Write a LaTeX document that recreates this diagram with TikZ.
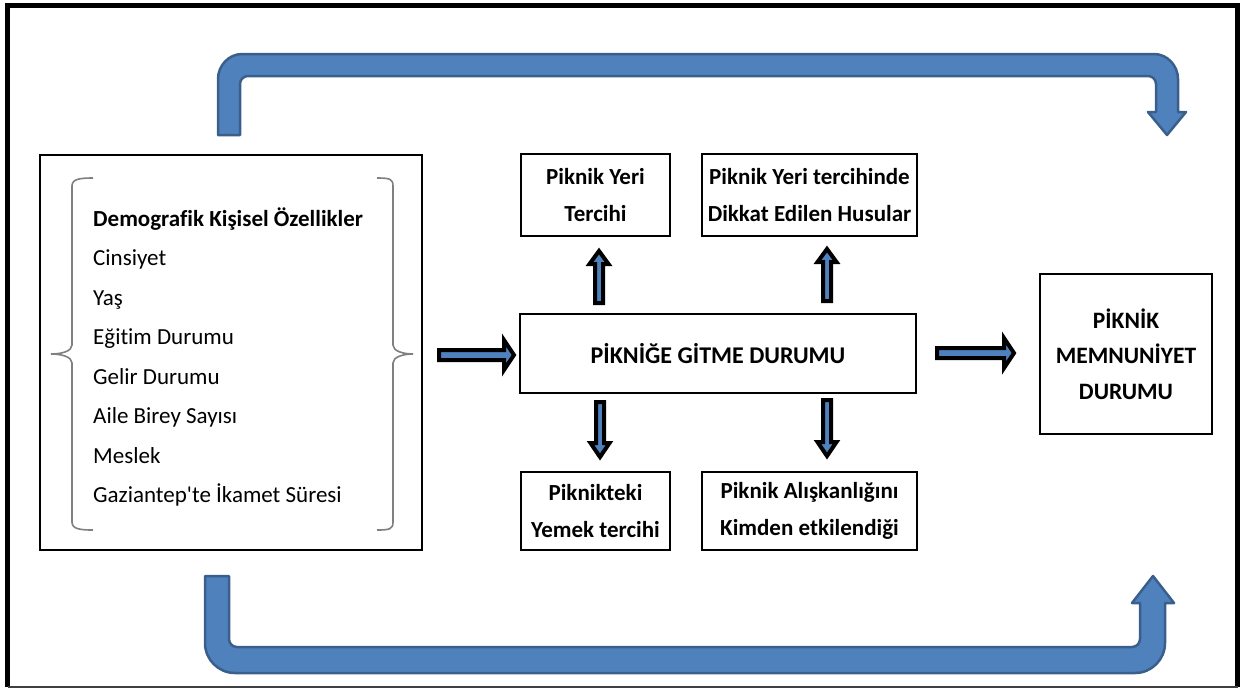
\documentclass[tikz,border=0pt]{standalone}
\usepackage{fontspec}
\setmainfont{Carlito}[Ligatures={TeX,NoCommon}]
\newfontfamily\plainfont{Carlito}[Ligatures=NoCommon]
\definecolor{bigfill}{RGB}{79,129,189}
\definecolor{bigdraw}{RGB}{58,95,140}
\definecolor{bracegray}{RGB}{128,128,128}
\tikzset{
  box/.style={draw=black, line width=2.5pt, fill=white, align=center, inner sep=0pt,
    font={\fontsize{23}{37}\selectfont\bfseries}},
  bigarrow/.style={fill=bigfill, draw=bigdraw, line width=2.5pt, line join=round},
  smallarrow/.style={fill=bigfill, draw=black, line width=4pt, line join=miter},
  bracepath/.style={draw=bracegray, line width=1.6pt},
  listitem/.style={anchor=base west, inner sep=0pt, font={\fontsize{23}{27}\selectfont}},
}
\begin{document}
\begin{tikzpicture}[x=1pt, y=-1pt]
\useasboundingbox (0,0) rectangle (1248,689);
% outer frame
\draw[line width=5pt, line cap=butt] (7.5,687) -- (7.5,5.5) -- (1237.5,5.5) -- (1237.5,687);
\draw[line width=1.5pt, draw=black!75] (7.5,687) -- (1237.5,687);

% boxes
\node[box, minimum width=382pt, minimum height=395pt] (demo) at (231,352.5) {};
\node[box, minimum width=396pt, minimum height=79pt, font={\fontsize{24}{30}\selectfont\bfseries}] (gitme) at (718,353.5) {PİKNİĞE GİTME DURUMU};
\node[box, minimum width=149pt, minimum height=82pt] (yeri) at (595.5,195) {Piknik Yeri\\Tercihi};
\node[box, minimum width=215pt, minimum height=82pt] (husus) at (809.5,195) {Piknik Yeri tercihinde\\Dikkat Edilen Husular};
\node[box, minimum width=149pt, minimum height=78pt] (yemek) at (595.5,511) {Piknikteki\\Yemek tercihi};
\node[box, minimum width=215pt, minimum height=78pt] (aliskan) at (809.5,511) {Piknik Alışkanlığını\\Kimden etkilendiği};
\node[box, minimum width=172pt, minimum height=160pt, font={\fontsize{23.5}{35.5}\selectfont\bfseries}] (memnun) at (1126,354) {PİKNİK\\MEMNUNİYET\\DURUMU};

% list inside left box
\node[listitem, font={\fontsize{23}{27}\selectfont\bfseries}] (l1) at (93,226) {Demografik Kişisel Özellikler};
\node[listitem] (l2) at (93,265.5) {Cinsiyet};
\node[listitem] (l3) at (93,305) {Yaş};
\node[listitem] (l4) at (93,344.5) {Eğitim Durumu};
\node[listitem] (l5) at (93,384) {Gelir Durumu};
\node[listitem] (l6) at (93,423.5) {Aile Birey Sayısı};
\node[listitem] (l7) at (93,463) {Meslek};
\node[listitem] (l8) at (93,502.5) {Gaziantep{\plainfont'}te İkamet Süresi};

% braces
\draw[bracepath] (93,178) .. controls (80,178) and (72,179) .. (72,186) -- (72,345)
  .. controls (72,351) and (62,354) .. (51,354) .. controls (62,354) and (72,357) .. (72,363)
  -- (72,522) .. controls (72,529) and (80,530) .. (93,530);
\draw[bracepath] (377,178) .. controls (390,178) and (393,179) .. (393,186) -- (393,345)
  .. controls (393,351) and (403,354) .. (413,354) .. controls (403,354) and (393,357) .. (393,363)
  -- (393,522) .. controls (393,529) and (390,530) .. (377,530);

% small block arrows
\draw[smallarrow] (439,350) -- (504,350) -- (504,340) -- (514,355) -- (504,370) -- (504,360) -- (439,360) -- cycle;
\draw[smallarrow] (937,348) -- (1004,348) -- (1004,338) -- (1014,353) -- (1004,368) -- (1004,358) -- (937,358) -- cycle;
\draw[smallarrow] (595,303) -- (595,264) -- (589.5,264) -- (599,251) -- (608.5,264) -- (603,264) -- (603,303) -- cycle;
\draw[smallarrow] (823,301) -- (823,262) -- (817.5,262) -- (827,249) -- (836.5,262) -- (831,262) -- (831,301) -- cycle;
\draw[smallarrow] (596,402) -- (596,443) -- (590.5,443) -- (600,457) -- (609.5,443) -- (604,443) -- (604,402) -- cycle;
\draw[smallarrow] (823,400) -- (823,442) -- (817.5,442) -- (827,456) -- (836.5,442) -- (831,442) -- (831,400) -- cycle;

% big curved arrows
\draw[bigarrow] (218,135) -- (218,79) .. controls (218,65.7) and (228.7,54) .. (242,54)
  -- (1154,54) .. controls (1167.3,54) and (1178,65.7) .. (1178,79)
  -- (1178,112) -- (1186,112) -- (1167,135) -- (1148,112) -- (1156,112)
  -- (1156,84) .. controls (1156,79.6) and (1152.4,76) .. (1148,76)
  -- (248,76) .. controls (243.6,76) and (240,79.6) .. (240,84) -- (240,135) -- cycle;
\draw[bigarrow] (205,576) -- (205,643) .. controls (205,659.6) and (218.4,673) .. (235,673)
  -- (1135,673) .. controls (1151.6,673) and (1165,659.6) .. (1165,643)
  -- (1165,603) -- (1174,603) -- (1153,576) -- (1132,603) -- (1140,603)
  -- (1140,639) .. controls (1140,643.4) and (1136.4,647) .. (1132,647)
  -- (237,647) .. controls (232.6,647) and (229,643.4) .. (229,639) -- (229,576) -- cycle;
\end{tikzpicture}
\end{document}
